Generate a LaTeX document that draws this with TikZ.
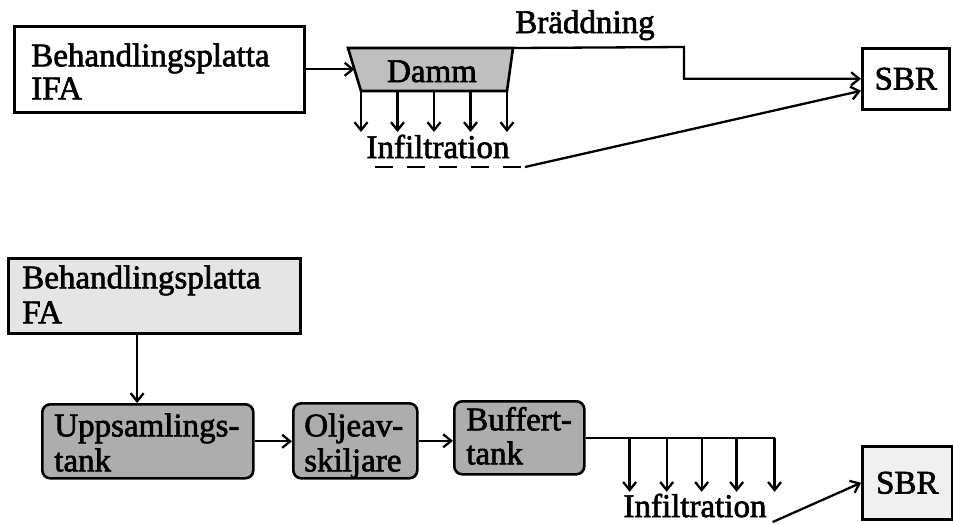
\documentclass[tikz,border=0pt]{standalone}
\usepackage{fontspec}
\setmainfont{Liberation Serif}[FakeBold=2]
\usetikzlibrary{arrows.meta,calc}
\tikzset{
  lbl/.style={font=\fontsize{33}{35}\selectfont, inner sep=0pt},
  boxnode/.style={draw, line width=2.6pt, anchor=north west, align=left, font=\fontsize{33}{35}\selectfont, inner ysep=0pt},
  procbox/.style={boxnode, rounded corners=8pt, fill=black!32},
  arr/.style={line width=2.3pt, -{Straight Barb[length=8pt,width=13pt]}},
  plain/.style={line width=2.3pt},
}
\begin{document}
\begin{tikzpicture}[x=1pt,y=-1pt]
\useasboundingbox (0,0) rectangle (953,523);
% ---------- top ----------
\node[boxnode, fill=white, minimum height=86pt, inner xsep=17pt, text width=256pt, text height=27pt, text depth=33pt, font=\fontsize{33}{33}\selectfont] (ifa) at (13,25) {Behandlingsplatta\\IFA};
\coordinate (dtl) at (348,48);
\coordinate (dtr) at (513,48);
\coordinate (dbr) at (507,91);
\coordinate (dbl) at (361,91);
\draw[line width=2.6pt, fill=black!25] (dtl) -- (dtr) -- (dbr) -- (dbl) -- cycle;
\node[lbl, anchor=base] (damm) at (432,82) {Damm};
\coordinate (din) at ($(dtl)!0.5!(dbl)$);
\draw[arr] (ifa.east) -- (ifa.east -| din);
\foreach \t in {0,0.25,0.5,0.75,1} \draw[arr] ($(dbl)!\t!(dbr)$) -- ++(0,41);
\node[lbl, anchor=base] (inf1) at (438,158) {Infiltration};
\coordinate (da) at (375,167);
\coordinate (db) at (525,167);
\draw[plain, dash pattern=on 18pt off 14pt] (da) -- (db);
\node[boxnode, fill=white, minimum width=87pt, minimum height=61pt, align=center, inner xsep=0pt] (sbr1) at (861,47) {SBR};
\draw[arr] (db) -- ($(sbr1.west)+(0,12)$);
\coordinate (ov) at (684,47);
\draw[arr] (dtr) -- (ov) |- (sbr1.west);
\node[lbl, anchor=base] (bradd) at (585,33) {Br\"addning};
% ---------- bottom ----------
\node[boxnode, fill=black!10, minimum height=75pt, inner xsep=14pt, text width=264pt, text height=20pt, text depth=35pt] (fa) at (7,257) {Behandlingsplatta\\FA};
\node[procbox, minimum height=74pt, inner xsep=12pt, text width=187pt, text height=25pt, text depth=35pt] (upps) at (41,403) {Uppsamlings-\\tank};
\node[procbox, minimum height=75pt, inner xsep=11pt, text width=102pt, text height=26pt, text depth=35pt] (olje) at (292,402) {Oljeav-\\skiljare};
\node[procbox, minimum height=73pt, inner xsep=12pt, text width=106pt, text height=19pt, text depth=34pt, font=\fontsize{33}{34}\selectfont] (buf) at (453,400) {Buffert-\\tank};
\coordinate (uin) at ($(upps.north west)!0.45!(upps.north east)$);
\draw[arr] (fa.south -| uin) -- (uin);
\draw[arr] (upps.east) -- (upps.east -| olje.west);
\draw[arr] (olje.east) -- (olje.east -| buf.west);
\coordinate (bend) at ($(buf.east)+(189,0)$);
\draw[plain] (buf.east) -- (bend);
\foreach \t in {0.233,0.429,0.614,0.799,1} \draw[arr] ($(buf.east)!\t!(bend)$) -- ++(0,54);
\node[lbl, anchor=base] (inf2) at (695,517) {Infiltration};
\node[boxnode, fill=black!6, minimum width=90pt, minimum height=73pt, align=center, inner xsep=0pt] (sbr2) at (861,445) {SBR};
\draw[arr] ($(inf2.base east)+(6,5)$) -- (sbr2.west);
\end{tikzpicture}
\end{document}
